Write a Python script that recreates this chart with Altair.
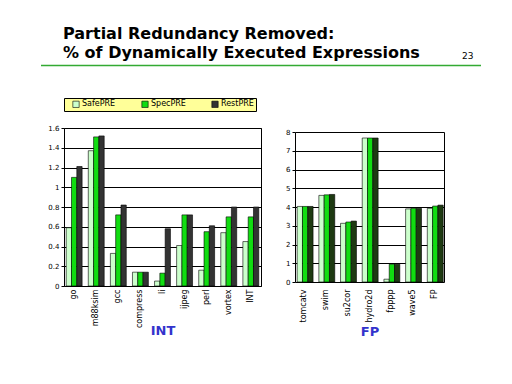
import altair as alt
import pandas as pd

series = ["SafePRE", "SpecPRE", "RestPRE"]

int_cats = ["go", "m88ksim", "gcc", "compress", "li", "ijpeg", "perl", "vortex", "INT"]
int_safe = [0.59, 1.37, 0.33, 0.14, 0.05, 0.41, 0.16, 0.54, 0.45]
int_spec = [1.10, 1.51, 0.72, 0.14, 0.13, 0.72, 0.55, 0.70, 0.70]
int_rest = [1.21, 1.52, 0.82, 0.14, 0.58, 0.72, 0.61, 0.80, 0.80]

fp_cats = ["tomcatv", "swim", "su2cor", "hydro2d", "fpppp", "wave5", "FP"]
fp_safe = [4.03, 4.62, 3.13, 7.68, 0.15, 3.90, 3.93]
fp_spec = [4.03, 4.65, 3.20, 7.68, 0.95, 3.93, 4.05]
fp_rest = [4.03, 4.67, 3.25, 7.68, 0.95, 3.93, 4.10]

int_ticks = [0, 0.2, 0.4, 0.6, 0.8, 1, 1.2, 1.4, 1.6]
fp_ticks = [0, 1, 2, 3, 4, 5, 6, 7, 8]

title_lines = ["Partial Redundancy Removed:", "% of Dynamically Executed Expressions"]
page_no = "23"


def long_df(cats, a, b, c):
    rows = []
    for i, cat in enumerate(cats):
        for s, v in zip(series, (a[i], b[i], c[i])):
            rows.append({"cat": cat, "series": s, "value": v})
    return pd.DataFrame(rows)


int_df = long_df(int_cats, int_safe, int_spec, int_rest)
fp_df = long_df(fp_cats, fp_safe, fp_spec, fp_rest)

LABEL_FONT = "DejaVu Sans"


def bars(df, cats, colors, ymax, ticks, title, legend, min_ext, pad_in,
         pad_out, title_pad, yrange=None, y_orient="left", hidden=False):
    yscale = alt.Scale(domain=[0, ymax], nice=False, zero=True)
    if yrange is not None:
        yscale = alt.Scale(domain=[0, ymax], nice=False, zero=True, range=yrange)
    if hidden:
        yaxis = alt.Axis(title=None, orient=y_orient, labels=False, ticks=False,
                         grid=False, domain=True, domainColor="black",
                         domainWidth=1, values=ticks)
    else:
        yaxis = alt.Axis(title=None, orient=y_orient, values=ticks, format="~g",
                         grid=True, gridColor="black", gridWidth=1,
                         gridOpacity=1, domain=yrange is not None,
                         domainColor="black", domainWidth=1, tickColor="black",
                         tickSize=3, labelFont=LABEL_FONT, labelFontSize=7,
                         labelColor="black", labelPadding=2, minExtent=min_ext)
    return alt.Chart(df).mark_bar(stroke="black", strokeWidth=0.6,
                                  opacity=0 if hidden else 1).encode(
        x=alt.X("cat:N", sort=cats,
                scale=alt.Scale(paddingInner=pad_in, paddingOuter=pad_out),
                axis=alt.Axis(title=title, labelAngle=-90, labelAlign="right",
                              labelBaseline="middle", labelFont=LABEL_FONT,
                              labelFontSize=8, labelColor="black",
                              ticks=False, domain=False, labelPadding=3,
                              titleFont="DejaVu Sans", titleFontSize=13,
                              titleFontWeight="bold", titleColor="#3333cc",
                              titlePadding=title_pad)),
        xOffset=alt.XOffset("series:N", sort=series),
        y=alt.Y("value:Q", scale=yscale, axis=yaxis),
        color=alt.Color("series:N", sort=series,
                        scale=alt.Scale(domain=series, range=colors),
                        legend=legend),
    )


legend = alt.Legend(title=None, orient="none", legendX=0, legendY=-30,
                    direction="horizontal", fillColor="#ffff99",
                    strokeColor="black", padding=2, symbolType="square",
                    symbolSize=40, symbolStrokeColor="black",
                    symbolStrokeWidth=0.6, labelFont=LABEL_FONT,
                    labelFontSize=8, columnPadding=19, labelOffset=2,
                    symbolOffset=6)

int_chart = bars(int_df, int_cats, ["#ccffcc", "#11dd11", "#333333"],
                 1.6, int_ticks, "INT", legend, 23, 0.28, 0.1, -3).properties(
    width=197, height=158,
    view=alt.ViewBackground(stroke="black", strokeWidth=1))

fp_colors = ["#ccffcc", "#11dd11", "#1e3a12"]
fp_main = bars(fp_df, fp_cats, fp_colors, 8, fp_ticks, "FP", None, 16,
               0.33, 0.1, 3, yrange=[154, 4])
fp_right = bars(fp_df, fp_cats, fp_colors, 8, fp_ticks, "FP", None, 16,
                0.33, 0.1, 3, yrange=[154, 4], y_orient="right", hidden=True)
fp_chart = alt.layer(fp_main, fp_right).resolve_axis(y="independent").properties(
    width=149, height=158,
    view=alt.ViewBackground(stroke="transparent"))

hdr_df = pd.DataFrame({"line": title_lines, "row": [0, 1]})
hdr_text = alt.Chart(hdr_df).mark_text(
    align="left", baseline="alphabetic", font="DejaVu Sans",
    fontWeight="bold", fontSize=16, color="black"
).encode(
    x=alt.value(-1),
    y=alt.Y("row:Q", axis=None,
            scale=alt.Scale(domain=[0, 1], range=[29.5, 48.5])),
    text="line:N",
)
pg = alt.Chart(pd.DataFrame({"t": [page_no]})).mark_text(
    align="left", baseline="alphabetic", font="DejaVu Sans", fontSize=9,
    color="black"
).encode(x=alt.value(398), y=alt.value(49.5), text="t:N")
rule = alt.Chart(pd.DataFrame({"t": [page_no]})).mark_rule(
    color="#33aa33", strokeWidth=1.5
).encode(x=alt.value(-23), x2=alt.value(417), y=alt.value(56.5))

header = alt.layer(rule, hdr_text, pg).properties(
    width=400, height=60, view=alt.ViewBackground(stroke="transparent"))

chart = alt.vconcat(
    header,
    alt.hconcat(int_chart, fp_chart, spacing=16).resolve_scale(color="independent"),
    spacing=27,
).properties(padding={"left": 31, "top": 0, "right": 0, "bottom": 0}
).configure(background="white")

chart.save("out.html", embed_options={"renderer": "svg", "actions": False})
